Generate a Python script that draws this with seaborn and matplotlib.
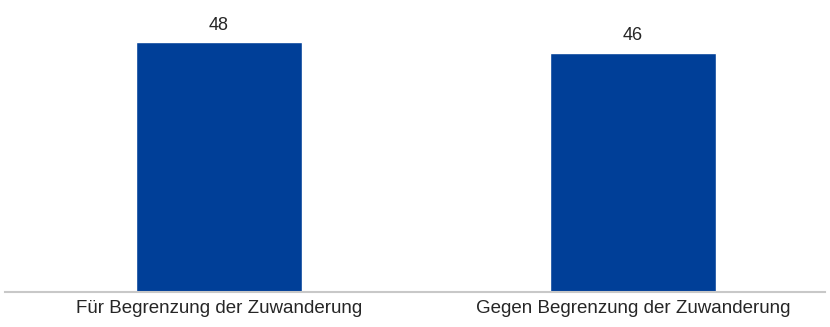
import matplotlib
matplotlib.use("Agg")
import matplotlib.pyplot as plt
import seaborn as sns
import pandas as pd

categories = ["Für Begrenzung der Zuwanderung", "Gegen Begrenzung der Zuwanderung"]
values = [48, 46]

sns.set_style("white")
plt.rcParams["font.family"] = ["Liberation Sans", "DejaVu Sans"]

df = pd.DataFrame({"cat": categories, "val": values})

fig = plt.figure(figsize=(8.3, 3.27), dpi=100)
ax = fig.add_axes([5 / 830, 35 / 327, 820 / 830, 286 / 327])

sns.barplot(data=df, x="cat", y="val", color="#003f98", saturation=1,
            width=0.4, ax=ax)

for i, v in enumerate(values):
    ax.text(i, v + 3.3, str(v), ha="center", va="center",
            fontsize=13, color="#262626")

ax.set_xlim(-0.517, 1.464)
ax.set_ylim(0, 55)
ax.set_xlabel("")
ax.set_ylabel("")
ax.set_yticks([])
ax.tick_params(axis="x", length=0, labelsize=13.5, labelcolor="#262626", pad=6)
for s in ["top", "right", "left"]:
    ax.spines[s].set_visible(False)
ax.spines["bottom"].set_color("#c8c8c8")
ax.spines["bottom"].set_linewidth(1.5)

fig.savefig("out.png", dpi=100)
